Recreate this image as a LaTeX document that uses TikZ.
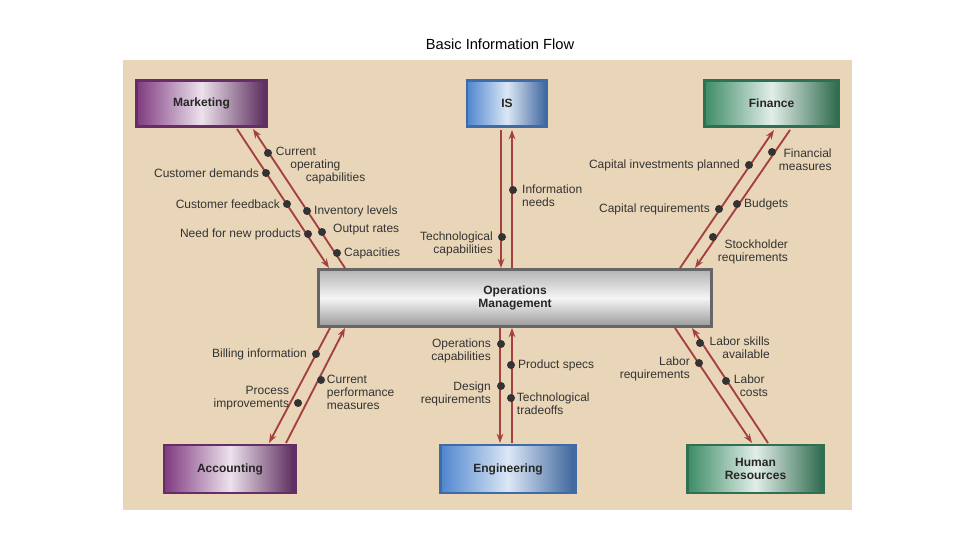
\documentclass[tikz,border=0pt]{standalone}
\usepackage{fontspec}
\setmainfont{Liberation Sans}
\usetikzlibrary{arrows.meta,calc}
\definecolor{bg}{HTML}{E9D6B8}
\definecolor{arr}{HTML}{A4403F}
\definecolor{txt}{HTML}{333333}
\begin{document}
\begin{tikzpicture}[x=0.75pt,y=-0.75pt,
  box/.style={draw=#1!80!black,line width=2.2pt,inner sep=0pt,font=\bfseries\fontsize{9}{10}\selectfont,text=black!85,align=center},
  mkbox/.style={box=mk,left color=mk,right color=mk!70!black,middle color=mk!15},
  isbox/.style={box=isb,left color=isb,right color=isb!75!black,middle color=isb!20},
  fnbox/.style={box=fn,left color=fn,right color=fn!75!black,middle color=fn!15},
  flow/.style={draw=arr,line width=1.4pt,-{Stealth[length=7pt,width=5pt]}},
  dot/.style={circle,fill=black!80,inner sep=0pt,minimum size=6pt},
  lab/.style={font=\fontsize{9}{10}\selectfont,text=txt,align=#1,inner sep=2pt},
  lab/.default=left]
\colorlet{mk}{violet!55!gray}
\definecolor{isb}{HTML}{4F86CF}
\definecolor{fn}{HTML}{3C8C66}
\useasboundingbox (0,0) rectangle (960,540);
\fill[white] (0,0) rectangle (960,540);
\fill[bg] (123,60) rectangle (852,510);
\node[font=\fontsize{11}{13}\selectfont] (title) at (500,44) {Basic Information Flow};
% boxes
\node[mkbox,minimum width=98pt,minimum height=35pt] (mk) at (201.5,103.5) {Marketing};
\node[isbox,minimum width=60pt,minimum height=35pt] (is) at (507,103.5) {IS};
\node[fnbox,minimum width=101pt,minimum height=35pt] (fn) at (771.5,103.5) {Finance};
\node[box=gray,top color=gray!60,bottom color=gray!80,middle color=gray!8,minimum width=295pt,minimum height=43pt] (om) at (515,298) {Operations\\Management};
\node[mkbox,minimum width=99pt,minimum height=36pt] (ac) at (230,469) {Accounting};
\node[isbox,minimum width=101pt,minimum height=36pt] (en) at (508,469) {Engineering};
\node[fnbox,minimum width=102pt,minimum height=36pt] (hr) at (755.5,469) {Human\\Resources};
% connector endpoints
\coordinate (m1) at (237,129); \coordinate (o1) at (329,268);
\coordinate (m2) at (253,129); \coordinate (o2) at (345,268);
\coordinate (i1) at (501,130); \coordinate (o3) at (501,268);
\coordinate (i2) at (512,130); \coordinate (o4) at (512,268);
\coordinate (f1) at (774,130); \coordinate (o5) at (680,268);
\coordinate (f2) at (790,130); \coordinate (o6) at (695,268);
\coordinate (o7) at (330,328); \coordinate (a1) at (269,443);
\coordinate (o8) at (345,328); \coordinate (a2) at (286,443);
\coordinate (o9) at (500,328); \coordinate (e1) at (500,443);
\coordinate (o10) at (512,328); \coordinate (e2) at (512,443);
\coordinate (o11) at (675,328); \coordinate (h1) at (752,443);
\coordinate (o12) at (692,328); \coordinate (h2) at (768,443);
\draw[flow] (m1) -- (o1); \draw[flow] (o2) -- (m2);
\draw[flow] (i1) -- (o3); \draw[flow] (o4) -- (i2);
\draw[flow] (o5) -- (f1); \draw[flow] (f2) -- (o6);
\draw[flow] (o7) -- (a1); \draw[flow] (a2) -- (o8);
\draw[flow] (o9) -- (e1); \draw[flow] (e2) -- (o10);
\draw[flow] (o11) -- (h1); \draw[flow] (h2) -- (o12);
% dots and labels
\node[dot] (d1) at (266,173) {}; \node[lab,anchor=east] (l1) at (d1.west) {Customer demands};
\node[dot] (d2) at (287,204) {}; \node[lab,anchor=east] (l2) at (d2.west) {Customer feedback};
\node[dot] (d3) at (308,234) {}; \node[lab,anchor=east] (l3) at (d3.west) {Need for new products};
\node[dot] (d4) at (268,153) {}; \node[lab,anchor=north west] (l4) at ($(d4)+(5,-9)$) {Current\\\hspace*{1.2em}operating\\\hspace*{2.5em}capabilities};
\node[dot] (d5) at (307,211) {}; \node[lab,anchor=west] (l5) at (d5.east) {Inventory levels};
\node[dot] (d6) at (322,232) {}; \node[lab,anchor=west] (l6) at ($(d6.east)+(4,-2)$) {Output rates};
\node[dot] (d7) at (337,253) {}; \node[lab,anchor=west] (l7) at (d7.east) {Capacities};
\node[dot] (d8) at (502,237) {}; \node[lab=right,anchor=east] (l8) at ($(d8.west)+(-2,7)$) {Technological\\capabilities};
\node[dot] (d9) at (513,190) {}; \node[lab,anchor=west] (l9) at ($(d9.east)+(2,6)$) {Information\\needs};
\node[dot] (d10) at (749,165) {}; \node[lab,anchor=east] (l10) at ($(d10.west)+(-2,0)$) {Capital investments planned};
\node[dot] (d11) at (719,209) {}; \node[lab,anchor=east] (l11) at ($(d11.west)+(-2,0)$) {Capital requirements};
\node[dot] (d12) at (772,152) {}; \node[lab=right,anchor=north west] (l12) at ($(d12)+(4,-6)$) {Financial\\measures};
\node[dot] (d13) at (737,204) {}; \node[lab,anchor=west] (l13) at (d13.east) {Budgets};
\node[dot] (d14) at (713,237) {}; \node[lab=right,anchor=north west] (l14) at ($(d14)+(2,0)$) {Stockholder\\requirements};
\node[dot] (d15) at (316,354) {}; \node[lab,anchor=east] (l15) at ($(d15.west)+(-2,0)$) {Billing information};
\node[dot] (d16) at (298,403) {}; \node[lab=right,anchor=north east] (l16) at ($(d16)+(-6,-20)$) {Process\\improvements};
\node[dot] (d17) at (321,380) {}; \node[lab,anchor=north west] (l17) at ($(d17)+(3,-8)$) {Current\\performance\\measures};
\node[dot] (d18) at (501,344) {}; \node[lab=right,anchor=east] (l18) at ($(d18.west)+(-3,7)$) {Operations\\capabilities};
\node[dot] (d19) at (501,386) {}; \node[lab=right,anchor=east] (l19) at ($(d19.west)+(-3,8)$) {Design\\requirements};
\node[dot] (d20) at (511,365) {}; \node[lab,anchor=west] (l20) at (d20.east) {Product specs};
\node[dot] (d21) at (511,398) {}; \node[lab,anchor=north west] (l21) at ($(d21)+(3,-8)$) {Technological\\tradeoffs};
\node[dot] (d22) at (699,363) {}; \node[lab=right,anchor=east] (l22) at ($(d22.west)+(-2,6)$) {Labor\\requirements};
\node[dot] (d23) at (700,343) {}; \node[lab=right,anchor=north west] (l23) at ($(d23)+(5,-9)$) {Labor skills\\\hspace*{1.2em}available};
\node[dot] (d24) at (726,381) {}; \node[lab,anchor=north west] (l24) at ($(d24)+(5,-9)$) {Labor\\\hspace*{0.5em}costs};
\end{tikzpicture}
\end{document}
